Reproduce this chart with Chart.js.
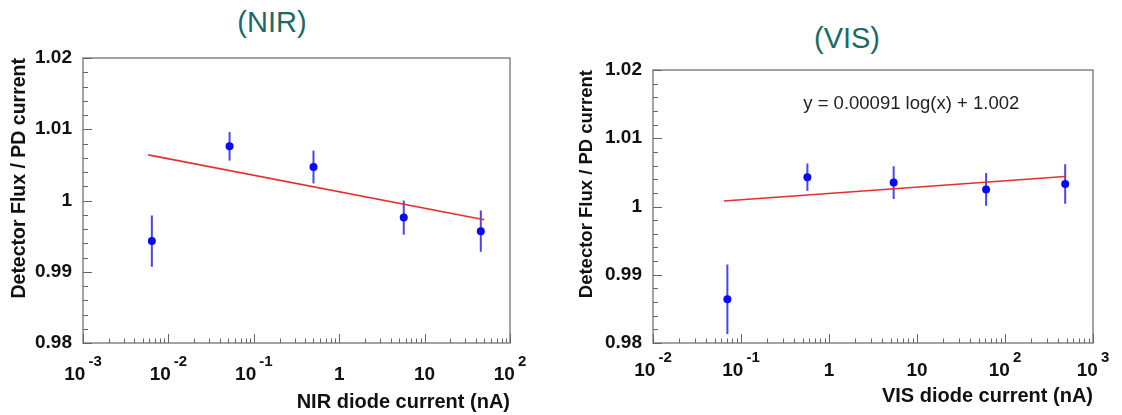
<!DOCTYPE html>
<html>
<head>
<meta charset="utf-8">
<script src="https://cdn.jsdelivr.net/npm/chart.js@4.4.1/dist/chart.umd.min.js"></script>
<style>
 body { margin:0; width:1122px; height:415px; background:#fff; overflow:hidden; position:relative; font-family:"Liberation Sans", Arial, sans-serif; }
 .box { position:absolute; top:0; width:561px; height:415px; }
 .ttl { position:absolute; color:#1a6b66; font-size:29px; transform:translate(-50%,-50%); white-space:nowrap; }
 canvas { position:absolute; left:0; top:0; }
</style>
</head>
<body>
<div class="ttl" style="left:272px;top:22px">(NIR)</div>
<div class="ttl" style="left:847px;top:38px">(VIS)</div>
<div class="box" style="left:0"><canvas id="nir" width="561" height="415"></canvas></div>
<div class="box" style="left:561px"><canvas id="vis" width="561" height="415"></canvas></div>
<script>
// NIR data
const nirX = [0.0064, 0.052, 0.50, 5.7, 45.5];
const nirY = [0.9943, 1.0076, 1.0047, 0.9976, 0.9957];
const nirErr = [0.0036, 0.0020, 0.0023, 0.0024, 0.0029];
const nirFitX = [0.0058, 50];
const nirFitY = [1.0064, 0.9973];

// VIS data
const visX = [0.070, 0.568, 5.43, 61, 483];
const visY = [0.9864, 1.0043, 1.0035, 1.0025, 1.0033];
const visErr = [0.0051, 0.0020, 0.0024, 0.0024, 0.0029];
const visFitX = [0.064, 480];
const visFitY = [1.0008, 1.0044];

// tick labels
const yTickValues = [0.98, 0.99, 1, 1.01, 1.02];
const yTickLabels = ['0.98', '0.99', '1', '1.01', '1.02'];
const nirTickValues = [1e-3, 1e-2, 1e-1, 1, 10, 100];
const nirTickBase = ['10', '10', '10', '1', '10', '10'];
const nirTickExp = ['-3', '-2', '-1', '', '', '2'];
const visTickValues = [1e-2, 1e-1, 1, 10, 100, 1000];
const visTickBase = ['10', '10', '1', '10', '10', '10'];
const visTickExp = ['-2', '-1', '', '', '2', '3'];

// fit annotation (VIS)
const visEqText = 'y = 0.00091 log(x) + 1.002';
const visEqX = 0.51;
const visEqY = 1.015;

const FONT = '"Liberation Sans", Arial, sans-serif';

// error bars, frame, inner ticks and 10^n labels
const rootAxes = {
 id: 'rootAxes',
 beforeDatasetsDraw(chart, args, o) {
  const {ctx, scales: {x, y}} = chart;
  ctx.save();
  ctx.strokeStyle = '#4646f2';
  ctx.lineWidth = 2;
  o.xs.forEach((v, i) => {
   const px = x.getPixelForValue(v);
   ctx.beginPath();
   ctx.moveTo(px, y.getPixelForValue(o.ys[i] - o.err[i]));
   ctx.lineTo(px, y.getPixelForValue(o.ys[i] + o.err[i]));
   ctx.stroke();
  });
  ctx.restore();
 },
 afterDraw(chart, args, o) {
  const {ctx, chartArea: a, scales: {x, y}} = chart;
  ctx.save();
  ctx.strokeStyle = '#858585';
  ctx.lineWidth = 1.5;
  ctx.strokeRect(a.left, a.top, a.right - a.left, a.bottom - a.top);
  ctx.lineWidth = 1;
  ctx.strokeStyle = '#666';
  ctx.beginPath();
  // y ticks every 0.002
  for (let k = 0; k <= 20; k++) {
   const v = 0.98 + k * 0.002;
   const py = Math.round(y.getPixelForValue(v)) + 0.5;
   const len = k % 5 === 0 ? 9 : 5;
   ctx.moveTo(a.left, py);
   ctx.lineTo(a.left + len, py);
  }
  // x ticks, decades and 2..9
  const d0 = Math.round(Math.log10(x.min)), d1 = Math.round(Math.log10(x.max));
  for (let d = d0; d <= d1; d++) {
   for (let m = 1; m <= 9; m++) {
    const v = m * Math.pow(10, d);
    if (v > x.max * 1.0001) break;
    const px = Math.round(x.getPixelForValue(v)) + 0.5;
    const len = m === 1 ? 9 : 4.5;
    ctx.moveTo(px, a.bottom);
    ctx.lineTo(px, a.bottom - len);
   }
  }
  ctx.stroke();

  // x labels with superscripts
  ctx.fillStyle = '#111';
  ctx.textAlign = 'left';
  ctx.textBaseline = 'alphabetic';
  o.tickValues.forEach((v, i) => {
   const px = x.getPixelForValue(v);
   ctx.font = 'bold 19px ' + FONT;
   const wb = ctx.measureText(o.tickBase[i]).width;
   ctx.font = 'bold 15px ' + FONT;
   const we = o.tickExp[i] ? ctx.measureText(o.tickExp[i]).width + 3 : 0;
   const sx = px - (wb + we) / 2;
   ctx.font = 'bold 19px ' + FONT;
   ctx.fillText(o.tickBase[i], sx, a.bottom + o.baseOff);
   if (o.tickExp[i]) {
    ctx.font = 'bold 15px ' + FONT;
    ctx.fillText(o.tickExp[i], sx + wb + 3, a.bottom + o.baseOff - 14);
   }
  });

  if (o.eq) {
   ctx.font = '18.5px ' + FONT;
   ctx.fillStyle = '#222';
   ctx.textBaseline = 'middle';
   ctx.fillText(o.eq, x.getPixelForValue(o.eqX), y.getPixelForValue(o.eqY));
  }
  ctx.restore();
 }
};

function makeChart(id, cfg) {
 const pts = cfg.xs.map((v, i) => ({x: v, y: cfg.ys[i]}));
 const fit = cfg.fitX.map((v, i) => ({x: v, y: cfg.fitY[i]}));
 return new Chart(document.getElementById(id), {
  type: 'scatter',
  data: {
   datasets: [
    {
     label: 'fit',
     data: fit,
     showLine: true,
     borderColor: '#e3302e',
     borderWidth: 1.6,
     pointRadius: 0,
    },
    {
     label: 'data',
     data: pts,
     backgroundColor: '#0a0af0',
     borderWidth: 0,
     pointRadius: 4,
    },
   ]
  },
  options: {
   responsive: false,
   animation: false,
   layout: { padding: { top: cfg.top, right: cfg.right, left: 0, bottom: 0 } },
   plugins: {
    legend: { display: false },
    tooltip: { enabled: false },
    rootAxes: {
     xs: cfg.xs, ys: cfg.ys, err: cfg.err,
     tickValues: cfg.tickValues, tickBase: cfg.tickBase, tickExp: cfg.tickExp,
     baseOff: cfg.baseOff, eq: cfg.eq, eqX: cfg.eqX, eqY: cfg.eqY,
    }
   },
   scales: {
    x: {
     type: 'logarithmic',
     min: cfg.tickValues[0],
     max: cfg.tickValues[cfg.tickValues.length - 1],
     grid: { display: false, drawTicks: false },
     border: { display: false },
     ticks: { display: false },
     afterFit: s => { s.height = cfg.xh; },
     title: {
      display: true,
      text: cfg.xTitle,
      align: 'end',
      color: '#111',
      font: { family: FONT, size: 20, weight: 'bold' },
      padding: { top: 0, bottom: cfg.xTitlePad },
     }
    },
    y: {
     min: 0.98,
     max: 1.02,
     grid: { display: false, drawTicks: false },
     border: { display: false },
     afterBuildTicks: s => { s.ticks = yTickValues.map(v => ({value: v})); },
     afterFit: s => { s.width = cfg.yw; },
     ticks: {
      padding: 11,
      color: '#111',
      font: { family: FONT, size: 19, weight: 'bold' },
      callback: (v, i) => yTickLabels[i],
     },
     title: {
      display: true,
      text: 'Detector Flux / PD current',
      align: 'end',
      color: '#111',
      font: { family: FONT, size: cfg.yTitleSize, weight: 'bold' },
      padding: { top: cfg.yTitlePad, bottom: 0 },
     }
    }
   }
  },
  plugins: [rootAxes]
 });
}

makeChart('nir', {
 xs: nirX, ys: nirY, err: nirErr, fitX: nirFitX, fitY: nirFitY,
 tickValues: nirTickValues, tickBase: nirTickBase, tickExp: nirTickExp,
 xTitle: 'NIR diode current (nA)',
 top: 58, right: 51, yw: 83, xh: 72, baseOff: 37, xTitlePad: 1,
 yTitleSize: 19.5, yTitlePad: 8,
});

makeChart('vis', {
 xs: visX, ys: visY, err: visErr, fitX: visFitX, fitY: visFitY,
 tickValues: visTickValues, tickBase: visTickBase, tickExp: visTickExp,
 xTitle: 'VIS diode current (nA)',
 top: 70, right: 29, yw: 92, xh: 72, baseOff: 33, xTitlePad: 7,
 yTitleSize: 18.5, yTitlePad: 15,
 eq: visEqText, eqX: visEqX, eqY: visEqY,
});
</script>
</body>
</html>
